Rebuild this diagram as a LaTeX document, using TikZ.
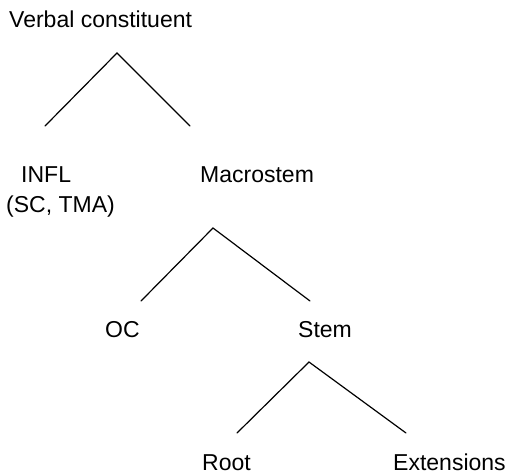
\documentclass[tikz,border=0pt]{standalone}
\usepackage{fontspec}
\usepackage{tikz}
\usetikzlibrary{positioning}
\newfontfamily\treefont{Liberation Sans}
\newcommand{\lblfont}{\treefont\fontsize{23}{27}\selectfont}

\begin{document}
\begin{tikzpicture}[x=1pt,y=-1pt,
  lbl/.style={anchor=base west,inner sep=0pt,font=\lblfont},
  branch/.style={line width=1.2pt,line cap=round}
]
\useasboundingbox (0,0) rectangle (510,474);
% Top level
\node[lbl] (verbal) at (9,27) {Verbal constituent};
\coordinate (verbalTop) at (117,53);
\coordinate (verbalL) at (45,126);
\coordinate (verbalR) at (190,126);
\draw[branch] (verbalL) -- (verbalTop) -- (verbalR);
% Second level
\node[lbl] (infl) at (21,182) {INFL};
\node[lbl] (inflsub) at (6,212) {(SC, TMA)};
\node[lbl] (macro) at (200,182) {Macrostem};
\coordinate (macroTop) at (213,228);
\coordinate (macroL) at (141,301);
\coordinate (macroR) at (310,301);
\draw[branch] (macroL) -- (macroTop) -- (macroR);
% Third level
\node[lbl] (oc) at (105,337) {OC};
\node[lbl] (stem) at (298,337) {Stem};
\coordinate (stemTop) at (309,362);
\coordinate (stemL) at (237,433);
\coordinate (stemR) at (406,433);
\draw[branch] (stemL) -- (stemTop) -- (stemR);
% Leaves
\node[lbl] (root) at (202,470) {Root};
\node[lbl] (ext) at (393,470) {Extensions};
\end{tikzpicture}
\end{document}
